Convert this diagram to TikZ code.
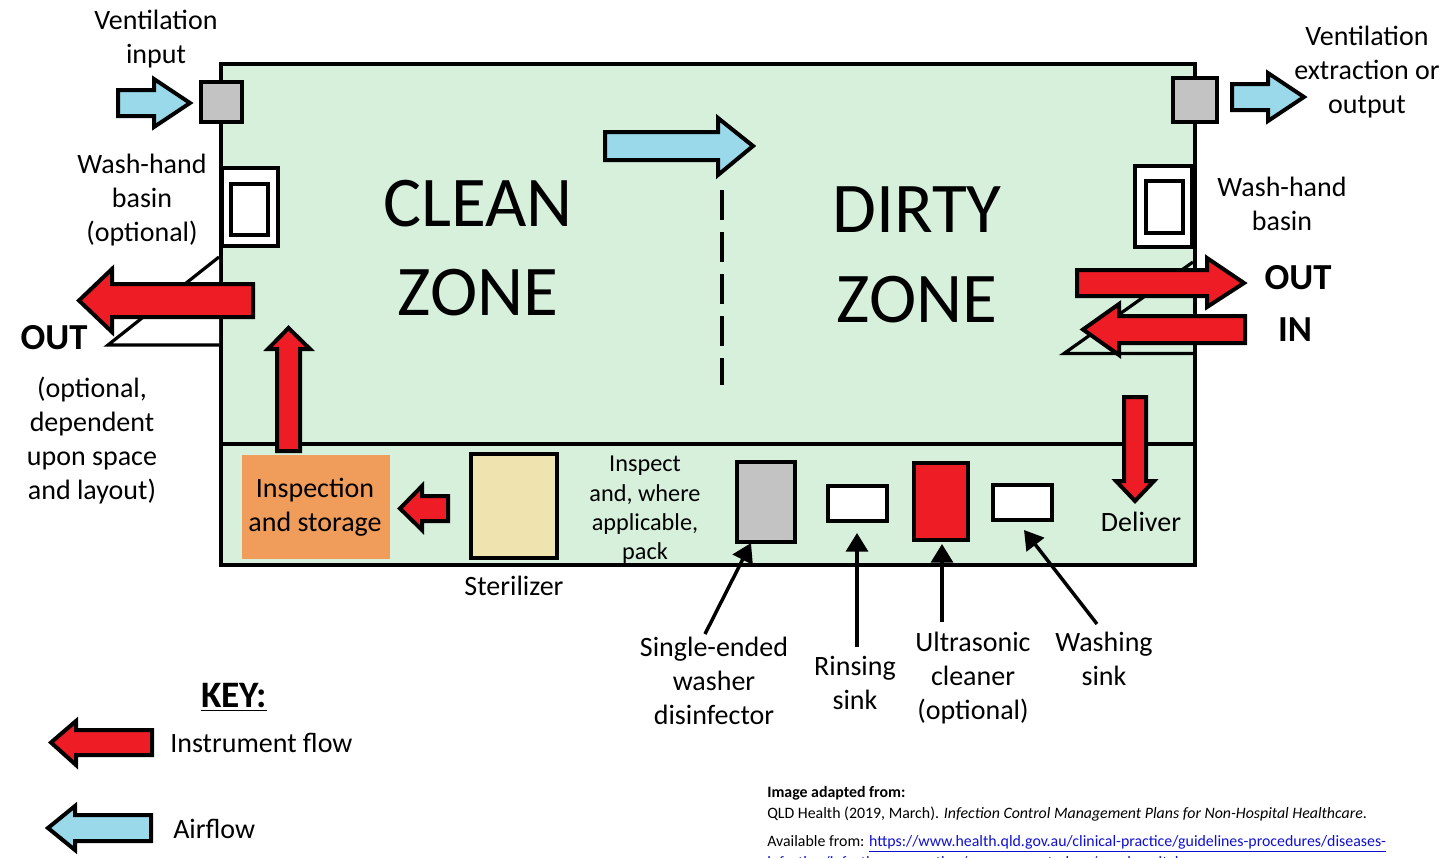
\documentclass[tikz,border=0pt]{standalone}
\usepackage{fontspec}
\setmainfont{Carlito}
\definecolor{zonegreen}{HTML}{D6F0DC}
\definecolor{flowred}{HTML}{EE1C25}
\definecolor{airblue}{HTML}{99D9EA}
\definecolor{boxgray}{HTML}{C3C3C3}
\definecolor{stor}{HTML}{F09C5A}
\definecolor{steril}{HTML}{EFE4B0}
\definecolor{linkblue}{HTML}{1010D0}
\usetikzlibrary{arrows.meta}
\tikzset{
 x=0.75pt,y=-0.75pt,
 bk/.style={draw=black,line width=3pt,miter limit=10,line join=miter},
 redarrow/.style={bk,fill=flowred},
 bluearrow/.style={bk,fill=airblue},
 lbl/.style={align=center,font=\fontsize{21}{25.5}\selectfont,inner sep=0pt},
 packlbl/.style={align=center,font=\fontsize{18.2}{22}\selectfont,inner sep=0pt},
 zone/.style={align=center,font=\fontsize{53.5}{67}\selectfont,inner sep=0pt},
 bold/.style={font=\fontsize{27.5}{30}\selectfont\bfseries,inner sep=0pt},
 pointer/.style={draw=black,line width=2.6pt,-{Triangle[length=14pt,width=16.5pt]}},
 ref/.style={font=\fontsize{11.9}{13}\selectfont,inner sep=0pt,anchor=west},
}
% horizontal block arrow: tail x, head base x, apex x, body top, body bottom, wing top, wing bottom
\newcommand{\harrow}[8]{\draw[#1] (#2,#5) -- (#3,#5) -- (#3,#7) -- (#4,{(#5+#6)/2}) -- (#3,#8) -- (#3,#6) -- (#2,#6) -- cycle;}
\newcommand{\varrow}[8]{\draw[#1] (#5,#2) -- (#5,#3) -- (#7,#3) -- ({(#5+#6)/2},#4) -- (#8,#3) -- (#6,#3) -- (#6,#2) -- cycle;}
\begin{document}
\begin{tikzpicture}
\useasboundingbox (0,0) rectangle (1446,857);
\fill[white] (0,0) rectangle (1446,857);
% room
\draw[fill=zonegreen,line width=2.8pt] (221,64) rectangle (1195,565);
\draw[line width=2.8pt] (221,444) -- (1195,444);
% door swings
\draw[fill=white,line width=2.4pt] (219,257) -- (108,345) -- (219,345);
\draw[line width=2.4pt] (1193,262) -- (1064,353.5) -- (1195,353.5);
% vents
\node[draw,line width=3pt,fill=boxgray,minimum width=31pt,minimum height=30.5pt,inner sep=0pt] (ventin) at (221.5,102) {};
\node[draw,line width=3pt,fill=boxgray,minimum width=33.5pt,minimum height=33pt,inner sep=0pt] (ventout) at (1195,99.5) {};
% basins
\draw[fill=white,line width=2.6pt] (222,168) rectangle (278,246);
\draw[fill=white,line width=2.6pt] (231,184) rectangle (268,235);
\draw[line width=2.8pt] (221,168) -- (221,246);
\draw[fill=white,line width=2.6pt] (1135,166) rectangle (1192,247);
\draw[fill=white,line width=2.6pt] (1146,181) rectangle (1183,233);
\draw[line width=2.8pt] (1193,166) -- (1193,247);
% equipment
\node[fill=stor,minimum width=111pt,minimum height=78pt,inner sep=0pt] (insp) at (316,507) {};
\node[draw,line width=3pt,fill=steril,minimum width=64.5pt,minimum height=78pt,inner sep=0pt] (ster) at (514,505.5) {};
\node[draw,line width=3pt,fill=boxgray,minimum width=43pt,minimum height=60pt,inner sep=0pt] (washer) at (766,501.5) {};
\node[draw,line width=3pt,fill=white,minimum width=44.5pt,minimum height=26.5pt,inner sep=0pt] (rinse) at (857.5,503.5) {};
\node[draw,line width=3pt,fill=flowred,minimum width=41pt,minimum height=58pt,inner sep=0pt] (ultra) at (941,501.5) {};
\node[draw,line width=3pt,fill=white,minimum width=44.5pt,minimum height=26.5pt,inner sep=0pt] (wash) at (1022.5,502.5) {};
% dashed divider
\draw[line width=2.8pt,dash pattern=on 22.5pt off 9pt] (722,190) -- (722,385);
% blue arrows
\harrow{bluearrow}{118}{154}{190}{90}{116}{79}{127}
\harrow{bluearrow}{605}{718}{753}{132}{160}{118}{175}
\harrow{bluearrow}{1232}{1268}{1304}{84}{110}{73}{121}
\harrow{bluearrow}{151}{75}{48}{815}{841}{806}{850}
% red arrows
\harrow{redarrow}{253}{112}{79}{284}{317}{269}{332}
\harrow{redarrow}{1077}{1207}{1244}{270}{296}{258}{307}
\harrow{redarrow}{1245}{1119}{1083}{316}{343}{304}{355}
\harrow{redarrow}{448}{422}{400}{496}{521}{486}{530}
\harrow{redarrow}{152}{76}{51}{730}{755}{721}{765}
\varrow{redarrow}{451}{349}{328}{277}{300}{268}{310}
\varrow{redarrow}{397}{481}{501}{1124}{1146}{1116}{1154}
% labels
\node[zone] (clean) at (478,248) {CLEAN\\ZONE};
\node[zone] (dirty) at (917,255) {DIRTY\\ZONE};
\node[lbl] (lventin) at (156,39.5) {Ventilation\\input};
\node[lbl] (lventout) at (1367,72) {Ventilation\\extraction or\\output};
\node[lbl] (lbasinl) at (142,200) {Wash-hand\\basin\\(optional)};
\node[lbl] (lbasinr) at (1282,203.5) {Wash-hand\\basin};
\node[bold] (outl) at (54,338) {OUT};
\node[bold] (outr) at (1298,278) {OUT};
\node[bold] (inr) at (1295,329.5) {IN};
\node[lbl] (opt) at (92,441) {(optional,\\dependent\\upon space\\and layout)};
\node[lbl] (linsp) at (315,507) {Inspection\\and storage};
\node[lbl] (lster) at (514,586) {Sterilizer};
\node[packlbl] (lpack) at (645,510) {Inspect\\and, where\\applicable,\\pack};
\node[lbl] (ldeliver) at (1141,522) {Deliver};
\node[lbl] (lwasher) at (714,681) {Single-ended\\washer\\disinfector};
\node[lbl] (lrinse) at (855,683) {Rinsing\\sink};
\node[lbl] (lultra) at (973,678) {Ultrasonic\\cleaner\\(optional)};
\node[lbl] (lwash) at (1104,659) {Washing\\sink};
% pointers
\coordinate (p1) at (705,634);
\coordinate (p2) at (857,647);
\coordinate (p3) at (942,622);
\coordinate (p4) at (1097,624);
\draw[pointer] (p1) -- (751,543);
\draw[pointer] (p2) -- (857,533);
\draw[pointer] (p3) -- (942,544);
\draw[pointer] (p4) -- (1024,530);
% key
\node[bold,font=\fontsize{28}{30}\selectfont\bfseries] (key) at (234,697) {\underline{KEY:}};
\node[lbl,anchor=west] (k1) at (170,743) {Instrument flow};
\node[lbl,anchor=west] (k2) at (173,828.5) {Airflow};
% source
\begin{scope}
\clip (0,0) rectangle (1446,857);
\node[ref] (s1) at (767,793) {\textbf{Image adapted from:}};
\node[ref] (s2) at (767,814) {QLD Health (2019, March). \textit{Infection Control Management Plans for Non-Hospital Healthcare}.};
\node[ref] (s3) at (767,844) {Available from: \textcolor{linkblue}{\underline{https://www.health.qld.gov.au/clinical-practice/guidelines-procedures/diseases-}}};
\node[ref] (s4) at (767,865) {\textcolor{linkblue}{\underline{infection/infection-prevention/management-plans/non-hospital}}};
\end{scope}
\end{tikzpicture}
\end{document}
